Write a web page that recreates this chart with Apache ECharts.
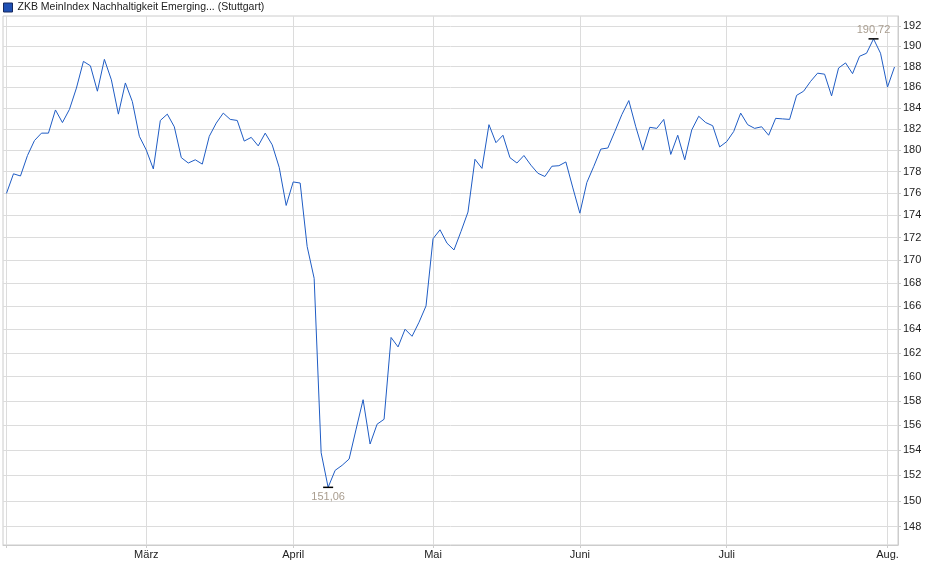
<!DOCTYPE html>
<html lang="de">
<head>
	<meta charset="UTF-8">
	<title>ZKB MeinIndex Nachhaltigkeit Emerging Markets (Stuttgart)</title>
	<script src="https://cdn.jsdelivr.net/npm/echarts@6.0.0/dist/echarts.min.js"></script>
	<style>
		* {
			margin: 0;
			padding: 0;
		}

		body {
			background: #fff;
		}

		#container {
			width: 940px;
			height: 579px;
		}
	</style>
</head>
<body>
<div id="container"></div>
<script type="text/javascript">
	var seriesName = 'ZKB MeinIndex Nachhaltigkeit Emerging... (Stuttgart)';

	// Handelstage Stuttgart, 03.02.2025 - 04.08.2025
	var dates = [
		'03.02.', '04.02.', '05.02.', '06.02.', '07.02.', '10.02.', '11.02.', '12.02.', '13.02.', '14.02.',
		'17.02.', '18.02.', '19.02.', '20.02.', '21.02.', '24.02.', '25.02.', '26.02.', '27.02.', '28.02.',
		'03.03.', '04.03.', '05.03.', '06.03.', '07.03.', '10.03.', '11.03.', '12.03.', '13.03.', '14.03.',
		'17.03.', '18.03.', '19.03.', '20.03.', '21.03.', '24.03.', '25.03.', '26.03.', '27.03.', '28.03.', '31.03.',
		'01.04.', '02.04.', '03.04.', '04.04.', '07.04.', '08.04.', '09.04.', '10.04.', '11.04.', '14.04.',
		'15.04.', '16.04.', '17.04.', '22.04.', '23.04.', '24.04.', '25.04.', '28.04.', '29.04.', '30.04.',
		'02.05.', '05.05.', '06.05.', '07.05.', '08.05.', '09.05.', '12.05.', '13.05.', '14.05.', '15.05.', '16.05.',
		'19.05.', '20.05.', '21.05.', '22.05.', '23.05.', '26.05.', '27.05.', '28.05.', '29.05.', '30.05.',
		'02.06.', '03.06.', '04.06.', '05.06.', '06.06.', '09.06.', '10.06.', '11.06.', '12.06.', '13.06.', '16.06.',
		'17.06.', '18.06.', '19.06.', '20.06.', '23.06.', '24.06.', '25.06.', '26.06.', '27.06.', '30.06.',
		'01.07.', '02.07.', '03.07.', '04.07.', '07.07.', '08.07.', '09.07.', '10.07.', '11.07.', '14.07.', '15.07.', '16.07.',
		'17.07.', '18.07.', '21.07.', '22.07.', '23.07.', '24.07.', '25.07.', '28.07.', '29.07.', '30.07.', '31.07.',
		'01.08.', '04.08.'
	];

	var prices = [
		176.0, 177.8, 177.6, 179.5, 180.9, 181.6, 181.6, 183.8, 182.6, 183.85,
		185.9, 188.5, 188.07, 185.6, 188.7, 186.7, 183.4, 186.4, 184.6, 181.3,
		180.0, 178.25, 182.8, 183.4, 182.2, 179.3, 178.8, 179.1, 178.7, 181.3,
		182.55, 183.5, 182.9, 182.8, 180.85, 181.2, 180.4, 181.6, 180.5, 178.4, 174.9,
		177.05, 176.95, 171.2, 168.4, 153.8, 151.06, 152.4, 152.8, 153.3, 155.7,
		158.1, 154.5, 156.1, 156.5, 163.3, 162.5, 164.0, 163.4, 164.6, 166.0,
		171.9, 172.7, 171.5, 170.9, 172.55, 174.3, 179.15, 178.3, 182.4, 180.7, 181.4,
		179.3, 178.8, 179.5, 178.6, 177.85, 177.55, 178.5, 178.55, 178.9, 176.5,
		174.2, 177.0, 178.5, 180.1, 180.2, 181.75, 183.35, 184.7, 182.2, 180.0, 182.15,
		182.05, 182.9, 179.6, 181.4, 179.1, 181.9, 183.2, 182.6, 182.3, 180.3,
		180.8, 181.75, 183.5, 182.4, 182.05, 182.2, 181.4, 183.0, 182.95, 182.9, 185.2, 185.6,
		186.55, 187.35, 187.25, 185.15, 187.85, 188.35, 187.3, 189.0, 189.3, 190.72, 189.3,
		186.0, 187.95
	];

	var yTicks = [148, 150, 152, 154, 156, 158, 160, 162, 164, 166, 168, 170,
		172, 174, 176, 178, 180, 182, 184, 186, 188, 190, 192];

	var monthNames = ['Jan.', 'Feb.', 'März', 'April', 'Mai', 'Juni', 'Juli', 'Aug.', 'Sept.', 'Okt.', 'Nov.', 'Dez.'];

	var fontFamily = '"Liberation Sans", Arial, sans-serif';
	var gridColor = '#dcdcdc';
	var frameColor = '#cccccc';

	function monthStart(i) {
		return i === 0 || dates[i].slice(3, 5) !== dates[i - 1].slice(3, 5);
	}

	function fmt(v) {
		return v.toFixed(2).replace('.', ',');
	}

	var myChart = echarts.init(document.getElementById('container'));

	var option = {
		animation: false,
		textStyle: {fontFamily: fontFamily},
		legend: {
			left: 3,
			top: 2,
			padding: 0,
			icon: 'rect',
			itemWidth: 9,
			itemHeight: 9,
			itemStyle: {color: '#1f50b4', borderColor: '#17295e', borderWidth: 1},
			textStyle: {color: '#222', fontSize: 10.5, fontFamily: fontFamily},
			data: [seriesName]
		},
		grid: {
			left: 3,
			right: 42,
			top: 16,
			bottom: 34,
			show: true,
			borderColor: frameColor,
			borderWidth: 1
		},
		xAxis: {
			type: 'category',
			data: dates,
			boundaryGap: true,
			axisLine: {show: true, lineStyle: {color: frameColor}},
			axisTick: {show: true, alignWithLabel: true, length: 3, interval: monthStart, lineStyle: {color: frameColor}},
			axisLabel: {
				interval: function (i) {
					return i > 0 && monthStart(i);
				},
				formatter: function (v) {
					return monthNames[+v.slice(3, 5) - 1];
				},
				color: '#222',
				fontSize: 11,
				margin: 4
			},
			splitLine: {show: true, alignWithLabel: true, interval: monthStart, lineStyle: {color: gridColor}}
		},
		yAxis: {
			type: 'log',
			logBase: 10,
			position: 'right',
			min: 146.6,
			max: 193.0,
			axisLine: {show: true, lineStyle: {color: frameColor}},
			axisTick: {show: true, length: 3, customValues: yTicks, lineStyle: {color: frameColor}},
			axisLabel: {customValues: yTicks, color: '#222', fontSize: 11, margin: 5},
			splitLine: {show: true, lineStyle: {color: gridColor}}
		},
		series: [
			{
				name: seriesName,
				type: 'line',
				data: prices,
				showSymbol: false,
				symbol: 'none',
				lineStyle: {width: 1, color: '#1f5cc4'},
				itemStyle: {color: '#1f50b4'},
				markPoint: {
					symbol: 'rect',
					symbolSize: [10, 1.5],
					itemStyle: {color: '#000'},
					label: {
						color: '#a99d8f',
						fontSize: 11,
						formatter: function (p) {
							return fmt(p.value);
						}
					},
					data: [
						{type: 'min', label: {position: 'bottom', distance: 3}},
						{type: 'max', label: {position: 'top', distance: 3}}
					]
				}
			}
		]
	};

	myChart.setOption(option);
</script>
</body>
</html>
